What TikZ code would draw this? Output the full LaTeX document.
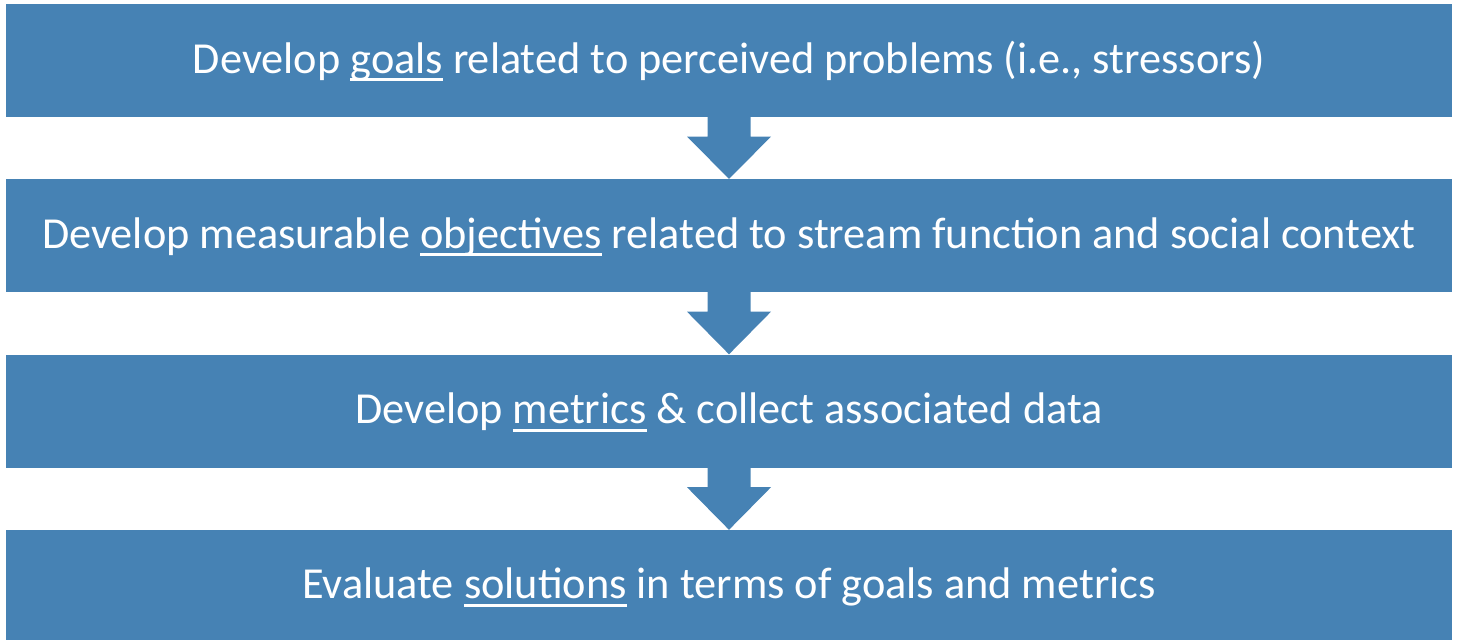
\documentclass[tikz,border=0pt]{standalone}
\usepackage{fontspec}
\setmainfont{Carlito}
\usetikzlibrary{calc}
\definecolor{boxblue}{HTML}{4682B4}
\newcommand\myul[1]{\setbox0\hbox{#1}\rlap{\rule[-8pt]{\wd0}{2.8pt}}\box0\relax}
\tikzset{
  stepbox/.style={fill=boxblue, draw=none, minimum width=1446pt, minimum height=113pt,
    inner sep=0pt, text=white, font=\fontsize{44.3}{52}\selectfont,
    text height=32pt, text depth=7pt},
  flowarrow/.style={fill=boxblue, draw=none}
}
\begin{document}
\begin{tikzpicture}[x=1pt,y=1pt]
\useasboundingbox (0,0) rectangle (1457,-640);
\node[stepbox] (b1) at (729,-60.5) {Develop \myul{goals} related to perceived problems (i.e., stressors)};
\node[stepbox] (b2) at (729,-235.5) {Develop measurable \myul{objectives} related to stream function and social context};
\node[stepbox] (b3) at (729,-411) {Develop \myul{metrics} \& collect associated data};
\node[stepbox, minimum height=112pt] (b4) at (729,-586) {Evaluate \myul{solutions} in terms of goals and metrics};
\foreach \a/\b in {b1/b2,b2/b3,b3/b4}{
  \fill[flowarrow] ($(\a.south)+(-21.5,0)$) -- ++(0,-19.5) -- ++(-20.5,0) -- (\b.north)
    -- ($(\a.south)+(42,-19.5)$) -- ++(-20.5,0) -- ++(0,19.5) -- cycle;
}
\end{tikzpicture}
\end{document}
